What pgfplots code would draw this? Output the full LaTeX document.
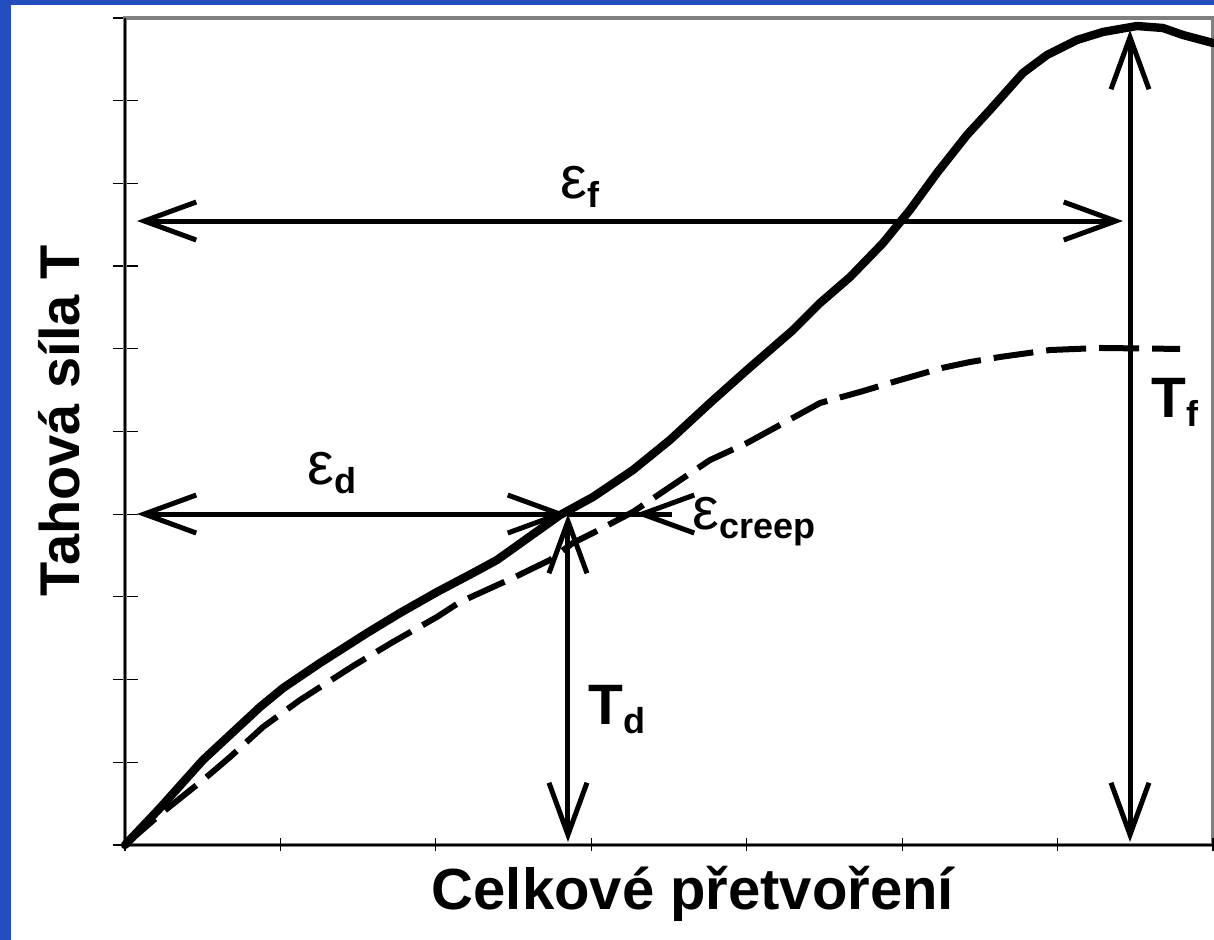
\documentclass[border=0pt]{standalone}
\usepackage{pgfplots}
\pgfplotsset{compat=1.18}
\usepackage{fontspec}
\setmainfont{Liberation Sans}
\usetikzlibrary{arrows.meta}

\definecolor{slideblue}{RGB}{36,78,192}
\definecolor{framegray}{RGB}{128,128,128}

% symbols with subscripts
\newcommand{\epssym}{{\fontsize{30}{30}\selectfont ε}}
\newcommand{\Tsym}{{\fontsize{28.5}{28.5}\selectfont\bfseries T}}
\newcommand{\sub}[1]{\raisebox{-4.5pt}{\fontsize{18}{18}\selectfont\bfseries #1}}

% strength curve (solid)
\pgfplotstableread{
x y
0.000 0.000
0.225 0.447
0.502 1.028
0.869 1.669
1.017 1.898
1.255 2.201
1.557 2.563
1.769 2.805
2.007 3.059
2.239 3.289
2.393 3.446
2.799 3.990
3.011 4.208
3.268 4.534
3.506 4.897
3.764 5.345
4.002 5.744
4.298 6.227
4.472 6.554
4.665 6.868
4.877 7.279
5.050 7.678
5.224 8.126
5.417 8.585
5.565 8.888
5.777 9.335
5.932 9.553
6.125 9.734
6.292 9.831
6.511 9.903
6.678 9.879
6.807 9.794
7.000 9.698
}\strengthcurve

% long-term (creep) curve (dashed)
\pgfplotstableread{
x y
0.000 0.000
0.244 0.399
0.502 0.786
0.676 1.064
0.888 1.427
1.126 1.753
1.467 2.164
1.724 2.455
2.007 2.757
2.155 2.938
2.496 3.229
2.734 3.446
2.882 3.652
3.011 3.773
3.268 4.027
3.506 4.329
3.764 4.655
4.002 4.861
4.214 5.079
4.472 5.345
4.729 5.478
4.941 5.598
5.256 5.768
5.436 5.840
5.630 5.901
5.951 5.985
6.273 6.010
6.788 5.998
}\creepcurve

\begin{document}
\begin{tikzpicture}[
  barb/.tip={Straight Barb[length=26pt,width=19pt]},
  arr/.style={line width=2.5pt, black}
]
\useasboundingbox (0,0) rectangle (607pt,470pt);
\fill[white] (0,0) rectangle (607pt,470pt);
\fill[slideblue] (0,0) rectangle (5.5pt,470pt);
\fill[slideblue] (0,467.5pt) rectangle (607pt,470pt);

\begin{axis}[
  at={(62.5pt,47.5pt)}, anchor=south west,
  scale only axis, width=544pt, height=413.5pt,
  xmin=0, xmax=7, ymin=0, ymax=10,
  xtick=\empty,
  ytick={0,...,10}, yticklabels={},
  ytick pos=left,
  tick align=center, major tick length=12.5pt,
  tick style={black, line width=0.6pt},
  axis line style={draw=framegray, line width=1.8pt},
  clip=false,
  xlabel={Celkové přetvoření},
  ylabel={Tahová síla T},
  xlabel style={at={(axis description cs:0.522,-0.0786)}, anchor=base,
    inner sep=0pt, font=\fontsize{29}{29}\selectfont\bfseries},
  ylabel style={at={(axis description cs:-0.0414,0.513)}, anchor=base,
    inner sep=0pt, font=\fontsize{28}{28}\selectfont\bfseries},
]
% inner black rule on left and bottom frame lines
\draw[black, line width=0.7pt] (axis cs:0,10) -- (axis cs:0,0) -- (axis cs:7,0);
% x tick marks
\pgfplotsinvokeforeach{0,...,7}{
  \draw[black, line width=0.6pt] (axis cs:#1,0) ++(0,-3.25pt) -- ++(0,6.5pt);
}

\addplot[black, line width=3pt, dash pattern=on 20pt off 6.5pt, line join=round]
  table[x=x, y=y] {\creepcurve};
\addplot[black, line width=4.2pt, line join=round, line cap=round]
  table[x=x, y=y] {\strengthcurve};

% dimension arrows
\draw[arr, barb-barb] (axis cs:0.077,7.545) -- (axis cs:6.421,7.545);
\draw[arr, barb-barb] (axis cs:6.466,0.036) -- (axis cs:6.466,9.855);
\draw[arr, barb-barb] (axis cs:0.077,4.002) -- (axis cs:2.844,4.002);
\draw[arr, barb-barb] (axis cs:2.850,0.036) -- (axis cs:2.850,4.002);
\draw[arr] (axis cs:2.844,4.002) -- (axis cs:3.519,4.002);
\draw[arr, -barb] (axis cs:3.519,4.002) -- (axis cs:3.281,4.002);

% labels
\node[anchor=base west, inner sep=0pt] at (axis cs:2.799,7.823) {\epssym\sub{f}};
\node[anchor=base west, inner sep=0pt] at (axis cs:1.171,4.353) {\epssym\sub{d}};
\node[anchor=base west, inner sep=0pt] at (axis cs:3.648,3.809) {\epssym\sub{creep}};
\node[anchor=base west, inner sep=0pt] at (axis cs:2.979,1.463) {\Tsym\sub{d}};
\node[anchor=base west, inner sep=0pt] at (axis cs:6.601,5.175) {\Tsym\sub{f}};
\end{axis}
\end{tikzpicture}
\end{document}
